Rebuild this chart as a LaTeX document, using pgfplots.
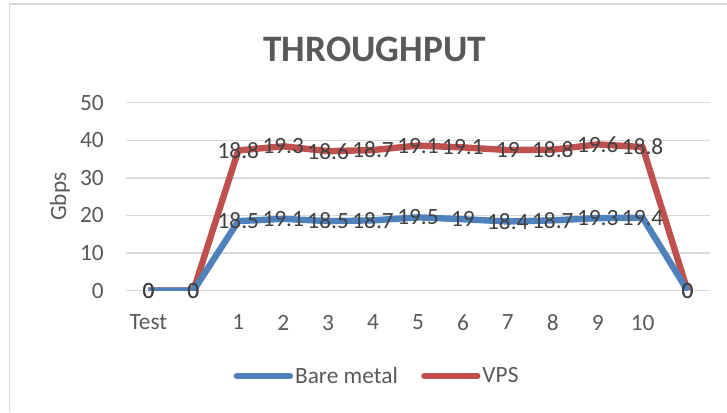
\documentclass[border=0pt]{standalone}
\usepackage{fontspec}
\setmainfont{Carlito}
\usepackage{pgfplots}
\pgfplotsset{compat=1.18}

\definecolor{bmblue}{HTML}{4F81BD}
\definecolor{vpsred}{HTML}{C0504D}
\definecolor{txtgray}{HTML}{595959}
\definecolor{lblgray}{HTML}{404040}
\definecolor{gridgray}{HTML}{D9D9D9}

\pgfplotsset{
  chartframe/.style={
    at={(94.5pt,91pt)}, anchor=south west,
    scale only axis,
    width=438pt, height=141pt,
    xmin=-0.5, xmax=12.5,
    ymin=0, ymax=50,
    stack plots=y,
  },
}

\begin{document}
\begin{tikzpicture}
  % page is 727 x 412 px, 1px = 0.75pt, origin bottom left
  \path[use as bounding box] (0,0) rectangle (545.25pt,309pt);
  % chart frame (only left and top edges show)
  \draw[gridgray, line width=1.1pt] (7pt,0pt) -- (7pt,306pt) -- (545.25pt,306pt);

  % title
  \node[anchor=base, font=\fontsize{28}{32}\selectfont\bfseries, text=txtgray]
    at (281pt,263pt) {THROUGHPUT};

  % lines, axes, legend
  \begin{axis}[
    chartframe,
    axis line style={draw=none},
    major tick length=0pt,
    ytick={0,10,...,50},
    xtick={0,...,12},
    xticklabels={Test,,1,2,3,4,5,6,7,8,9,10,},
    ymajorgrids,
    grid style={gridgray, line width=1.1pt},
    /pgf/number format/assume math mode=true,
    tick label style={font=\fontsize{17.5}{20}\selectfont, text=txtgray},
    yticklabel style={inner sep=0pt, xshift=-16.5pt},
    xticklabel style={inner sep=0pt, yshift=-18pt},
    ylabel={Gbps},
    ylabel style={at={(rel axis cs:-0.113,0.5)}, anchor=center,
                  font=\fontsize{17.5}{20}\selectfont, text=txtgray},
    legend columns=2,
    legend style={at={(rel axis cs:0.43,-0.454)}, anchor=center,
                  draw=none, fill=none,
                  font=\fontsize{17.5}{20}\selectfont, text=txtgray,
                  /tikz/every even column/.append style={column sep=16pt},
                  nodes={inner sep=1.5pt}},
    legend image code/.code={
      \draw[#1, line width=4.5pt, line cap=round] (0pt,0pt) -- (40pt,0pt);},
  ]
    \addplot[bmblue, line width=4.8pt, line join=round, mark=none] coordinates {
      (0,0) (1,0) (2,18.5) (3,19.1) (4,18.5) (5,18.7) (6,19.5)
      (7,19) (8,18.4) (9,18.7) (10,19.3) (11,19.4) (12,0)
    };
    \addlegendentry{Bare metal}

    \addplot[vpsred, line width=4.8pt, line join=round, mark=none] coordinates {
      (0,0) (1,0) (2,18.8) (3,19.3) (4,18.6) (5,18.7) (6,19.1)
      (7,19.1) (8,19) (9,18.8) (10,19.6) (11,18.8) (12,0)
    };
    \addlegendentry{VPS}
  \end{axis}

  % data labels drawn on top of both lines
  \begin{axis}[
    chartframe,
    hide axis,
    nodes near coords,
    point meta=explicit symbolic,
    every node near coord/.append style={anchor=center, inner sep=0pt,
                  font=\fontsize{17.5}{20}\selectfont, text=lblgray},
  ]
    \addplot[draw=none, mark=none] coordinates {
      (0,0) [0] (1,0) [0] (2,18.5) [18.5] (3,19.1) [19.1] (4,18.5) [18.5]
      (5,18.7) [18.7] (6,19.5) [19.5] (7,19) [19] (8,18.4) [18.4]
      (9,18.7) [18.7] (10,19.3) [19.3] (11,19.4) [19.4] (12,0) [0]
    };
    \addplot[draw=none, mark=none] coordinates {
      (0,0) [0] (1,0) [0] (2,18.8) [18.8] (3,19.3) [19.3] (4,18.6) [18.6]
      (5,18.7) [18.7] (6,19.1) [19.1] (7,19.1) [19.1] (8,19) [19]
      (9,18.8) [18.8] (10,19.6) [19.6] (11,18.8) [18.8] (12,0) [0]
    };
  \end{axis}
\end{tikzpicture}
\end{document}
